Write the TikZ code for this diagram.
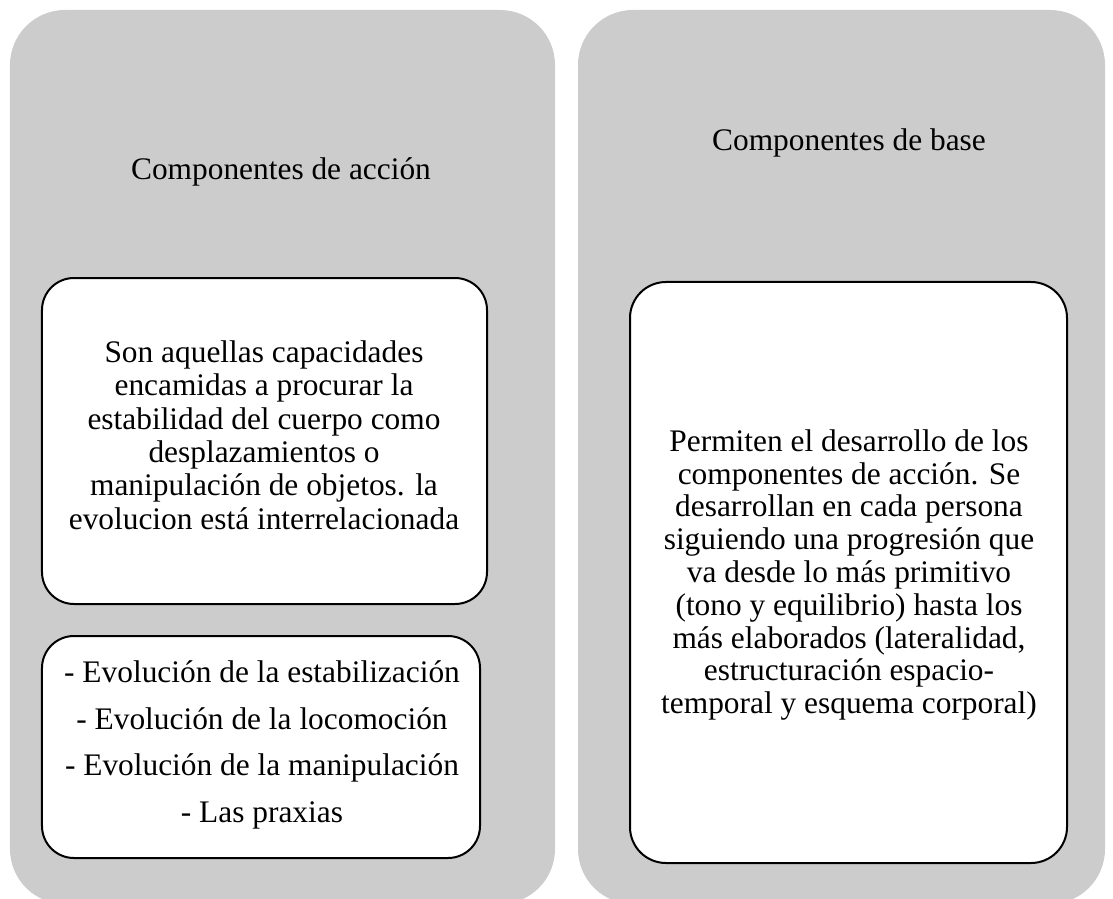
\documentclass[tikz,border=0pt]{standalone}
\usepackage{fontspec}
\setmainfont{Liberation Serif}
\begin{document}
\begin{tikzpicture}[x=1bp,y=-1bp,
  panel/.style={draw=none,fill=panelgray,rounded corners=55bp,inner sep=0pt},
  card/.style={draw=black,fill=white,line width=2bp,rounded corners=32bp,inner sep=0pt,align=center,
    font=\fontsize{31.5}{33.6}\selectfont},
  title/.style={font=\fontsize{31.5}{33.6}\selectfont,inner sep=0pt}]
\definecolor{panelgray}{HTML}{CCCCCC}
\useasboundingbox (0,0) rectangle (1113,899);
\node[panel,minimum width=545bp,minimum height=894bp] (pl) at (282.5,457) {};
\node[panel,minimum width=527bp,minimum height=894bp] (pr) at (841.5,457) {};
\node[title] (tl) at (281,172) {Componentes de acción};
\node[title] (tr) at (849,143) {Componentes de base};
\node[card,minimum width=445bp,minimum height=326bp] (b1) at (264.5,441) {};
\node[align=center,inner sep=0pt,font=\fontsize{31.5}{33.6}\selectfont] (t1) at (264,435)
  {Son aquellas capacidades\\encamidas a procurar la\\estabilidad del cuerpo como\\desplazamientos o\\manipulación de objetos. la\\evolucion está interrelacionada};
\node[card,minimum width=438bp,minimum height=222bp] (b2) at (261,747) {};
\node[align=center,inner sep=0pt,font=\fontsize{31.5}{47}\selectfont] (t2) at (262,745)
  {- Evolución de la estabilización\\- Evolución de la locomoción\\- Evolución de la manipulación\\- Las praxias};
\node[card,rounded corners=36bp,minimum width=437bp,minimum height=581bp] (b3) at (848.5,572.5) {};
\node[align=center,inner sep=0pt,font=\fontsize{31.5}{32.9}\selectfont] (t3) at (849,575)
  {Permiten el desarrollo de los\\componentes de acción. Se\\desarrollan en cada persona\\siguiendo una progresión que\\va desde lo más primitivo\\(tono y equilibrio) hasta los\\más elaborados (lateralidad,\\estructuración espacio-\\temporal y esquema corporal)};
\end{tikzpicture}
\end{document}
